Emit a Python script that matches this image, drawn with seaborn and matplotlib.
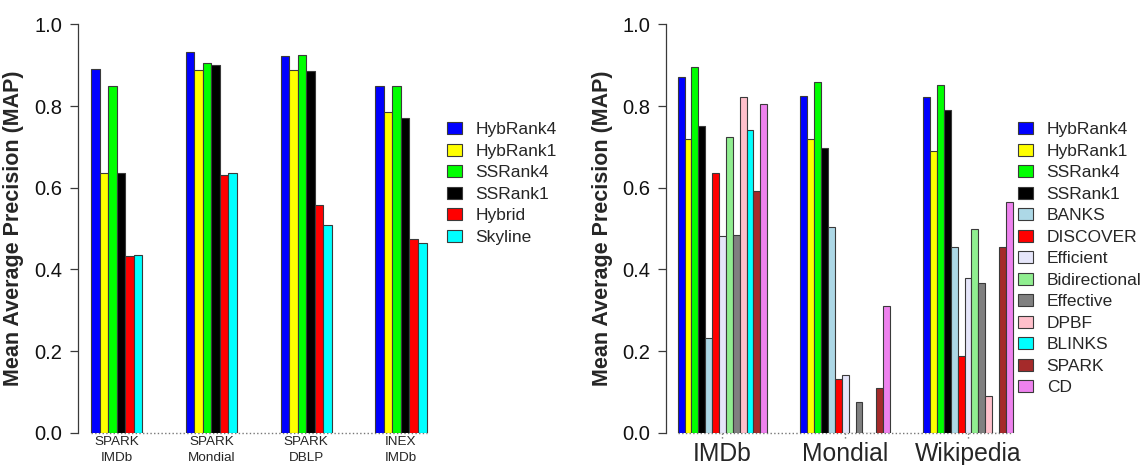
import numpy as np
import pandas as pd
import matplotlib
matplotlib.use('Agg')
import matplotlib.pyplot as plt
from matplotlib.patches import Patch
import seaborn as sns

# Veriler (sol panel)
sol_gruplar = ['SPARK\nIMDb', 'SPARK\nMondial', 'SPARK\nDBLP', 'INEX\nIMDb']
sol_yontemler = ['HybRank4', 'HybRank1', 'SSRank4', 'SSRank1', 'Hybrid', 'Skyline']
sol_renkler = ['#0000FF', '#FFFF00', '#00FF00', '#000000', '#FF0000', '#00FFFF']
hybrank4_a = [0.890, 0.931, 0.922, 0.848]
hybrank1_a = [0.636, 0.887, 0.889, 0.786]
ssrank4_a = [0.848, 0.906, 0.925, 0.850]
ssrank1_a = [0.635, 0.901, 0.886, 0.771]
hybrid_a = [0.434, 0.632, 0.557, 0.474]
skyline_a = [0.435, 0.636, 0.508, 0.465]

# Veriler (sag panel)
sag_gruplar = ['IMDb', 'Mondial', 'Wikipedia']
sag_yontemler = ['HybRank4', 'HybRank1', 'SSRank4', 'SSRank1', 'BANKS', 'DISCOVER',
                 'Efficient', 'Bidirectional', 'Effective', 'DPBF', 'BLINKS', 'SPARK', 'CD']
sag_renkler = ['#0000FF', '#FFFF00', '#00FF00', '#000000', '#ADD8E6', '#FF0000',
               '#E6E6FA', '#90EE90', '#808080', '#FFC0CB', '#00FFFF', '#A52A2A', '#EE82EE']
hybrank4_b = [0.870, 0.824, 0.821]
hybrank1_b = [0.720, 0.720, 0.691]
ssrank4_b = [0.896, 0.858, 0.851]
ssrank1_b = [0.751, 0.696, 0.791]
banks_b = [0.232, 0.504, 0.455]
discover_b = [0.637, 0.131, 0.188]
efficient_b = [0.482, 0.141, 0.378]
bidirectional_b = [0.725, 0.0, 0.500]
effective_b = [0.484, 0.076, 0.367]
dpbf_b = [0.822, 0.0, 0.090]
blinks_b = [0.741, 0.0, 0.0]
spark_b = [0.592, 0.110, 0.455]
cd_b = [0.804, 0.311, 0.566]

sol_seriler = [hybrank4_a, hybrank1_a, ssrank4_a, ssrank1_a, hybrid_a, skyline_a]
sag_seriler = [hybrank4_b, hybrank1_b, ssrank4_b, ssrank1_b, banks_b, discover_b,
               efficient_b, bidirectional_b, effective_b, dpbf_b, blinks_b, spark_b, cd_b]


def uzun_tablo(gruplar, yontemler, seriler):
    satirlar = []
    for yontem, degerler in zip(yontemler, seriler):
        for grup, d in zip(gruplar, degerler):
            satirlar.append({'grup': grup, 'yontem': yontem, 'map': d})
    return pd.DataFrame(satirlar)


df_sol = uzun_tablo(sol_gruplar, sol_yontemler, sol_seriler)
df_sag = uzun_tablo(sag_gruplar, sag_yontemler, sag_seriler)

sns.set_style('ticks')
plt.rcParams['font.family'] = ['Liberation Sans', 'DejaVu Sans']

W, H = 1145, 465
fig = plt.figure(figsize=(W / 100, H / 100), dpi=100)
ax1 = fig.add_axes([77.7 / W, 32.2 / H, 351.7 / W, 408.5 / H])
ax2 = fig.add_axes([666 / W, 32.2 / H, 348.6 / W, 408.5 / H])

kenar = '#3a3a3a'


def ciz(ax, df, gruplar, yontemler, renkler, genislik, xlim):
    sns.barplot(data=df, x='grup', y='map', hue='yontem', order=gruplar,
                hue_order=yontemler, palette=renkler, width=genislik,
                saturation=1, edgecolor=kenar, linewidth=0.8, legend=False, ax=ax)
    # taban cizgisi (noktali)
    xs = [p.get_x() for p in ax.patches] + [p.get_x() + p.get_width() for p in ax.patches]
    ax.plot([min(xs), max(xs)], [0, 0], ls=':', color='#777777', lw=1, zorder=0.5,
            clip_on=False)
    ax.set_xlim(*xlim)
    ax.set_ylim(0, 1)
    ax.set_yticks([0, 0.2, 0.4, 0.6, 0.8, 1.0])
    ax.set_yticklabels(['0.0', '0.2', '0.4', '0.6', '0.8', '1.0'])
    sns.despine(ax=ax, bottom=True)
    ax.spines['left'].set_bounds(0, 1)
    ax.spines['left'].set_color(kenar)
    ax.spines['left'].set_linewidth(0.9)
    ax.tick_params(axis='y', length=5.8, width=0.9, color=kenar, labelsize=14.5,
                   pad=5.5, labelcolor='#111111')
    ax.set_xlabel('')
    ax.set_ylabel('Mean Average Precision (MAP)', fontsize=15.5, fontweight='bold')
    ax.patch.set_alpha(0)
    leg_el = [Patch(facecolor=c, edgecolor=kenar, linewidth=0.8, label=l)
              for c, l in zip(renkler, yontemler)]
    return leg_el


el1 = ciz(ax1, df_sol, sol_gruplar, sol_yontemler, sol_renkler, 0.54, (-0.41, 3.3))
el2 = ciz(ax2, df_sag, sag_gruplar, sag_yontemler, sag_renkler, 0.73, (-0.46, 2.38))

ax1.yaxis.set_label_coords((24 - 77.7) / 351.7, 0.5)
ax2.yaxis.set_label_coords((613 - 666) / 348.6, 0.5)

ax1.tick_params(axis='x', length=0, labelsize=9.7, pad=2.5)
for t in ax1.get_xticklabels():
    t.set_linespacing(1.38)
ax2.tick_params(axis='x', length=0, labelsize=17.8, pad=6.5)

# sag panelde noktali kucuk x isaretleri
for i in range(len(sag_gruplar)):
    ax2.plot([i, i], [0, -0.014], ls=':', color='#777777', lw=1, clip_on=False)

leg_ayar = dict(loc='upper left', frameon=False, fontsize=12.5, handlelength=0.85,
                handleheight=0.69, handletextpad=0.8, labelspacing=0.37,
                borderpad=0, borderaxespad=0, bbox_transform=fig.transFigure)
fig.legend(handles=el1, bbox_to_anchor=(447 / W, 1 - 122 / H), **leg_ayar)
fig.legend(handles=el2, bbox_to_anchor=(1018 / W, 1 - 122 / H), **leg_ayar)

fig.savefig('out.png', dpi=100)
plt.close()
